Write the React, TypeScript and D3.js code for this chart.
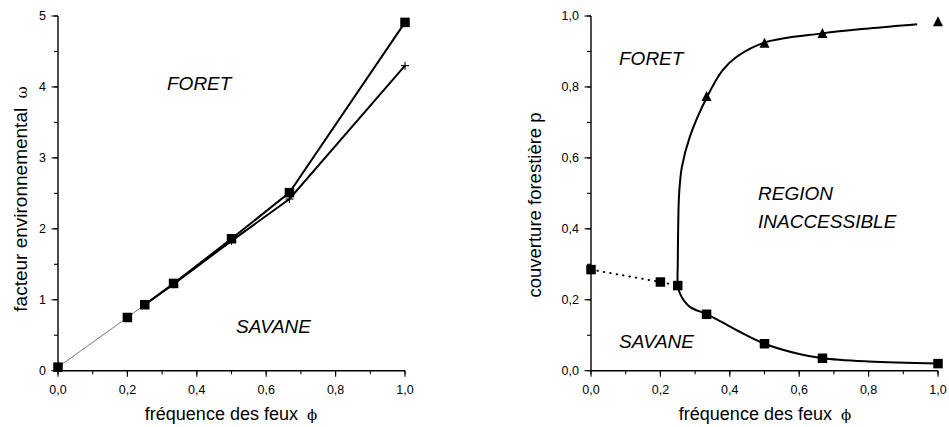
import React from "react";
import * as d3 from "d3";

// ---- Left panel data ----
const phiSquares = [0, 0.2, 0.25, 0.333, 0.5, 0.667, 1.0];
const omegaSquares = [0.05, 0.75, 0.93, 1.23, 1.86, 2.51, 4.91];
const phiPlus = [0.25, 0.333, 0.5, 0.667, 1.0];
const omegaPlus = [0.93, 1.22, 1.83, 2.42, 4.3];
const leftXTicks = [0, 0.2, 0.4, 0.6, 0.8, 1.0];
const leftYTicks = [0, 1, 2, 3, 4, 5];

// ---- Right panel data ----
const phiLow = [0, 0.2, 0.25, 0.333, 0.5, 0.667, 1.0];
const pLow = [0.285, 0.25, 0.24, 0.159, 0.076, 0.035, 0.02];
const phiHigh = [0.333, 0.5, 0.667, 1.0];
const pHigh = [0.773, 0.923, 0.951, 0.984];
const curvePhi = [0.94, 0.8, 0.667, 0.5, 0.42, 0.38, 0.335, 0.285, 0.262, 0.254, 0.251, 0.25, 0.25, 0.256, 0.285, 0.335, 0.42, 0.5, 0.6, 0.667, 0.8, 1.0];
const curveP = [0.977, 0.965, 0.951, 0.925, 0.885, 0.848, 0.773, 0.66, 0.575, 0.5, 0.387, 0.3, 0.246, 0.218, 0.18, 0.159, 0.114, 0.076, 0.047, 0.035, 0.026, 0.02];
const rightXTicks = [0, 0.2, 0.4, 0.6, 0.8, 1.0];
const rightYTicks = [0, 0.2, 0.4, 0.6, 0.8, 1.0];

const FONT = "'Liberation Sans', Arial, Helvetica, sans-serif";
const fmt = (v: number) => v.toFixed(1).replace(".", ",");

const W = 949;
const H = 427;
const TOP = 16;
const BOTTOM = 370.7;

function Axes({ x, y, xTicks, xMinor, yTicks, yMinor, yFmt }: any) {
  const [x0, x1] = x.range();
  return (
    <g>
      <line x1={x0} x2={x1} y1={BOTTOM} y2={BOTTOM} stroke="#000" strokeWidth={1.4} />
      <line x1={x0} x2={x0} y1={BOTTOM} y2={TOP} stroke="#000" strokeWidth={1.4} />
      {xMinor.map((t: number, i: number) => (
        <line key={"xm" + i} x1={x(t)} x2={x(t)} y1={BOTTOM} y2={BOTTOM + 3.5} stroke="#000" strokeWidth={1.1} />
      ))}
      {xTicks.map((t: number, i: number) => (
        <g key={"xt" + i}>
          <line x1={x(t)} x2={x(t)} y1={BOTTOM} y2={BOTTOM + 6} stroke="#000" strokeWidth={1.1} />
          <text x={x(t)} y={BOTTOM + 23} textAnchor="middle" fontSize={12.5} fontFamily={FONT}>{fmt(t)}</text>
        </g>
      ))}
      {yMinor.map((t: number, i: number) => (
        <line key={"ym" + i} x1={x0 - 4} x2={x0} y1={y(t)} y2={y(t)} stroke="#000" strokeWidth={1.1} />
      ))}
      {yTicks.map((t: number, i: number) => (
        <g key={"yt" + i}>
          <line x1={x0 - 6.5} x2={x0} y1={y(t)} y2={y(t)} stroke="#000" strokeWidth={1.1} />
          <text x={x0 - 12} y={y(t) + 4.3} textAnchor="end" fontSize={12.5} fontFamily={FONT}>{yFmt(t)}</text>
        </g>
      ))}
    </g>
  );
}

function Square({ cx, cy, s = 9.5 }: any) {
  return <rect x={cx - s / 2} y={cy - s / 2} width={s} height={s} fill="#000" />;
}
function Tri({ cx, cy, s = 10 }: any) {
  const h = s * 0.9;
  return <path d={`M${cx},${cy - h / 2 - 1}L${cx + s / 2},${cy + h / 2}L${cx - s / 2},${cy + h / 2}Z`} fill="#000" />;
}
function Plus({ cx, cy, s = 8 }: any) {
  return (
    <g stroke="#000" strokeWidth={1.1}>
      <line x1={cx - s / 2} x2={cx + s / 2} y1={cy} y2={cy} />
      <line x1={cx} x2={cx} y1={cy - s / 2} y2={cy + s / 2} />
    </g>
  );
}

export default function App() {
  // Left panel scales
  const xL = d3.scaleLinear().domain([0, 1]).range([58, 405]);
  const yL = d3.scaleLinear().domain([0, 5]).range([BOTTOM, TOP]);
  // Right panel scales
  const xR = d3.scaleLinear().domain([0, 1]).range([591, 938]);
  const yR = d3.scaleLinear().domain([0, 1]).range([BOTTOM, TOP]);

  const lineL = d3.line<[number, number]>().x((d) => xL(d[0])).y((d) => yL(d[1]));
  const lineR = d3.line<[number, number]>().x((d) => xR(d[0])).y((d) => yR(d[1]));
  const curveR = d3
    .line<[number, number]>()
    .x((d) => xR(d[0]))
    .y((d) => yR(d[1]))
    .curve(d3.curveCatmullRom.alpha(0.5));

  const sq = phiSquares.map((p, i) => [p, omegaSquares[i]] as [number, number]);
  const pl = phiPlus.map((p, i) => [p, omegaPlus[i]] as [number, number]);
  const thinPart = sq.slice(0, 3);
  const thickSq = sq.slice(2);

  const low = phiLow.map((p, i) => [p, pLow[i]] as [number, number]);
  const high = phiHigh.map((p, i) => [p, pHigh[i]] as [number, number]);
  const curvePts = curvePhi.map((p, i) => [p, curveP[i]] as [number, number]);

  const minorX = d3.range(0, 1.0001, 0.1).map((v) => +v.toFixed(2));
  const minorYL = d3.range(0, 5.0001, 0.5);
  const minorYR = d3.range(0, 1.0001, 0.1).map((v) => +v.toFixed(2));

  const italic = { fontFamily: FONT, fontStyle: "italic" as const, fontSize: 19 };

  return (
    <svg width={W} height={H} style={{ position: "absolute", left: 0, top: 0, background: "#fff" }}>
      <rect width={W} height={H} fill="#fff" />
      {/* ---------- Left panel ---------- */}
      <Axes x={xL} y={yL} xTicks={leftXTicks} xMinor={minorX} yTicks={leftYTicks} yMinor={minorYL} yFmt={(t: number) => String(t)} />
      <path d={lineL(thinPart) || ""} fill="none" stroke="#555" strokeWidth={0.8} />
      <path d={lineL(pl) || ""} fill="none" stroke="#000" strokeWidth={2} />
      <path d={lineL(thickSq) || ""} fill="none" stroke="#000" strokeWidth={2} />
      {pl.map((d, i) => (
        <Plus key={"p" + i} cx={xL(d[0])} cy={yL(d[1])} />
      ))}
      {sq.map((d, i) => (
        <Square key={"s" + i} cx={xL(d[0])} cy={yL(d[1])} />
      ))}
      <text x={167} y={90} {...italic}>FORET</text>
      <text x={236} y={333} {...italic}>SAVANE</text>
      <text x={231} y={420} textAnchor="middle" fontFamily={FONT} fontSize={18}>
        fréquence des feux <tspan fontFamily="'DejaVu Serif', serif" fontSize={15} dx={4}>ϕ</tspan>
      </text>
      <text transform="translate(27,199) rotate(-90)" textAnchor="middle" fontFamily={FONT} fontSize={19}>
        facteur environnemental <tspan fontFamily="'DejaVu Serif', serif" fontSize={15} dx={4}>ω</tspan>
      </text>

      {/* ---------- Right panel ---------- */}
      <Axes x={xR} y={yR} xTicks={rightXTicks} xMinor={minorX} yTicks={rightYTicks} yMinor={minorYR} yFmt={fmt} />
      <path d={lineR(low.slice(0, 3)) || ""} fill="none" stroke="#000" strokeWidth={2} strokeDasharray="0.5 6" strokeLinecap="round" />
      <path d={curveR(curvePts) || ""} fill="none" stroke="#000" strokeWidth={2} />
      {low.map((d, i) => (
        <Square key={"l" + i} cx={xR(d[0])} cy={yR(d[1])} />
      ))}
      {high.map((d, i) => (
        <Tri key={"h" + i} cx={xR(d[0])} cy={yR(d[1])} />
      ))}
      <text x={619} y={65} {...italic}>FORET</text>
      <text x={758} y={200} {...italic}>REGION</text>
      <text x={758} y={228} {...italic}>INACCESSIBLE</text>
      <text x={619} y={348} {...italic}>SAVANE</text>
      <text x={765} y={420} textAnchor="middle" fontFamily={FONT} fontSize={18}>
        fréquence des feux <tspan fontFamily="'DejaVu Serif', serif" fontSize={15} dx={4}>ϕ</tspan>
      </text>
      <text transform="translate(541,205) rotate(-90)" textAnchor="middle" fontFamily={FONT} fontSize={18.5}>
        couverture forestière  p
      </text>
    </svg>
  );
}
